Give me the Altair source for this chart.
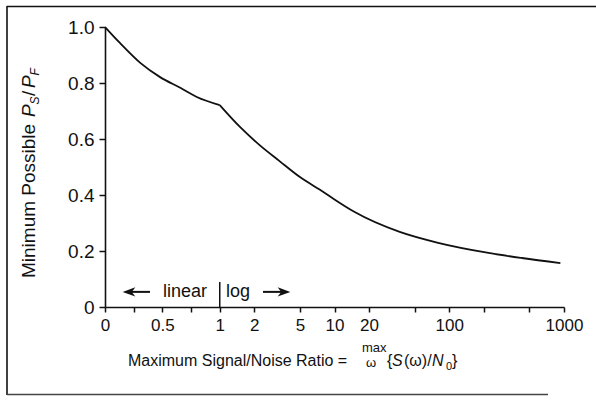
import math
import altair as alt
import pandas as pd

# ---- data ----
# linear section (0 .. 1)
lin_snr = [0.0, 0.13, 0.31, 0.48, 0.66, 0.80, 1.0]
lin_ratio = [1.0, 0.943, 0.871, 0.821, 0.782, 0.750, 0.721]
# log section (1 .. 1000)
log_snr = [1.0, 1.5, 2.2, 3.3, 5.0, 8.0, 10.0, 15.0, 37.0, 80.0, 220.0, 430.0, 930.0]
log_ratio = [0.721, 0.643, 0.580, 0.522, 0.464, 0.411, 0.384, 0.339, 0.268, 0.229, 0.193, 0.175, 0.157]

tick_snr = [0, 0.25, 0.5, 0.75, 1, 2, 5, 10, 20, 50, 100, 200, 500, 1000]
label_snr = [0, 0.5, 1, 2, 5, 10, 20, 100, 1000]
label_text = ["0", "0.5", "1", "2", "5", "10", "20", "100", "1000"]
y_ticks = [0, 0.2, 0.4, 0.6, 0.8, 1.0]
y_labels = ["0", "0.2", "0.4", "0.6", "0.8", "1.0"]

FONT = "Liberation Sans"
INK = "#111111"


def to_axis(v):
    return v if v <= 1 else 1 + math.log10(v)


df = pd.DataFrame({
    "snr": lin_snr + log_snr,
    "ratio": lin_ratio + log_ratio,
    "seg": ["linear"] * len(lin_snr) + ["log"] * len(log_snr),
})

tick_vals = [to_axis(v) for v in tick_snr]
x_expr = "".join(
    f"abs(datum.value - {to_axis(v):.6f}) < 0.001 ? '{s}' : " for v, s in zip(label_snr, label_text)
) + "''"
y_expr = "".join(
    f"abs(datum.value - {v}) < 0.001 ? '{s}' : " for v, s in zip(y_ticks, y_labels)
) + "''"

xscale = alt.Scale(domain=[0, 4], nice=False, zero=False)
yscale = alt.Scale(domain=[0, 1], nice=False)

x_axis = alt.Axis(
    values=tick_vals, labelExpr=x_expr, title=None, grid=False,
    domainColor=INK, domainWidth=1.6, tickColor=INK, tickWidth=1.5, tickSize=5,
    labelFont=FONT, labelFontSize=17, labelColor=INK, labelPadding=5,
    labelFlush=False, labelOverlap=False, labelBound=False,
)
y_axis = alt.Axis(
    values=y_ticks, labelExpr=y_expr, title=None, grid=False,
    domainColor=INK, domainWidth=1.6, tickColor=INK, tickWidth=1.5, tickSize=6,
    labelFont=FONT, labelFontSize=19, labelColor=INK, labelPadding=5,
    labelFlush=False, labelOverlap=False, labelBound=False,
)

curve = alt.Chart(df).transform_calculate(
    t="datum.snr <= 1 ? datum.snr : 1 + log(datum.snr) / LN10"
).mark_line(color=INK, strokeWidth=1.8, interpolate="monotone").encode(
    x=alt.X("t:Q", scale=xscale, axis=x_axis),
    y=alt.Y("ratio:Q", scale=yscale, axis=y_axis),
    detail="seg:N",
)

one = pd.DataFrame({"k": [0]})

# ---- "linear | log" annotation, in data coordinates ----
sep = alt.Chart(pd.DataFrame({"t": [1.0], "ratio": [0.0], "ratio2": [0.089]})).mark_rule(
    color=INK, strokeWidth=1.5
).encode(x=alt.X("t:Q", scale=xscale, axis=x_axis), y=alt.Y("ratio:Q", scale=yscale, axis=y_axis), y2="ratio2:Q")

shafts = alt.Chart(pd.DataFrame({"t": [0.21, 1.377], "t2": [0.392, 1.56], "ratio": [0.054, 0.054]})).mark_rule(
    color=INK, strokeWidth=2
).encode(x=alt.X("t:Q", scale=xscale, axis=x_axis), x2="t2:Q", y=alt.Y("ratio:Q", scale=yscale, axis=y_axis))

head_l = alt.Chart(pd.DataFrame({"t": [0.209], "ratio": [0.054]})).mark_point(
    shape="M-1,0L1,-0.75L0.45,0L1,0.75Z", size=160, filled=True, color=INK, opacity=1
).encode(x=alt.X("t:Q", scale=xscale, axis=x_axis), y=alt.Y("ratio:Q", scale=yscale, axis=y_axis))
head_r = alt.Chart(pd.DataFrame({"t": [1.56], "ratio": [0.054]})).mark_point(
    shape="M1,0L-1,-0.75L-0.45,0L-1,0.75Z", size=160, filled=True, color=INK, opacity=1
).encode(x=alt.X("t:Q", scale=xscale, axis=x_axis), y=alt.Y("ratio:Q", scale=yscale, axis=y_axis))

region_txt = alt.Chart(pd.DataFrame({"t": [0.697, 1.159], "ratio": [0.036, 0.036], "lab": ["linear", "log"]})).mark_text(
    font=FONT, fontSize=18, color=INK, align="center", baseline="alphabetic"
).encode(x=alt.X("t:Q", scale=xscale, axis=x_axis), y=alt.Y("ratio:Q", scale=yscale, axis=y_axis), text="lab:N")

# ---- axis titles (text pieces placed around the plot) ----
OX, OY = 105, 27
TOTAL_W, TOTAL_H = 596, 396


def piece(text, x, y, size=16, italic=False, angle=0):
    kw = dict(font=FONT, fontSize=size, color=INK, align="left", baseline="alphabetic")
    if italic:
        kw["fontStyle"] = "italic"
    if angle:
        kw["angle"] = angle
    return alt.Chart(one).mark_text(text=text, **kw).encode(
        x=alt.value(x - OX), y=alt.value(y - OY)
    )


xt = [
    piece("Maximum Signal/Noise Ratio =", 128, 366),
    piece("max", 362, 352, size=13),
    piece("ω", 366, 367, size=13),
    piece("{", 387, 366),
    piece("S", 392, 366, italic=True),
    piece("(ω)/", 404, 366),
    piece("N", 432, 366, italic=True),
    piece("0", 446, 370, size=11),
    piece("}", 452, 366),
]
yt = [
    piece("Minimum Possible", 35, 278, size=19, angle=270),
    piece("P", 35, 117, size=19, italic=True, angle=270),
    piece("S", 39, 104.5, size=12, italic=True, angle=270),
    piece("/", 35, 96, size=19, angle=270),
    piece("P", 35, 88, size=19, italic=True, angle=270),
    piece("F", 39, 75.5, size=12, italic=True, angle=270),
]

# ---- scanned frame around the figure ----
frame = [
    alt.Chart(one).mark_rule(color=INK, strokeWidth=1.6).encode(
        x=alt.value(7 - OX), x2=alt.value(596 - OX), y=alt.value(6.5 - OY)),
    alt.Chart(one).mark_rule(color=INK, strokeWidth=1.6).encode(
        x=alt.value(7 - OX), y=alt.value(6 - OY), y2=alt.value(395 - OY)),
    alt.Chart(one).mark_rule(color="#444444", strokeWidth=1.4).encode(
        x=alt.value(7 - OX), x2=alt.value(548 - OX), y=alt.value(394.5 - OY)),
]

chart = alt.layer(
    curve, sep, shafts, head_l, head_r, region_txt, *xt, *yt, *frame
).properties(
    width=459, height=280,
    autosize=alt.AutoSizeParams(type="none"),
    padding={"left": OX, "top": OY, "right": TOTAL_W - OX - 459, "bottom": TOTAL_H - OY - 280},
    background="white",
).configure_view(stroke=None).configure_axis(labelOverlap=False)

chart.save("out.html", embed_options={"renderer": "svg", "actions": False})
